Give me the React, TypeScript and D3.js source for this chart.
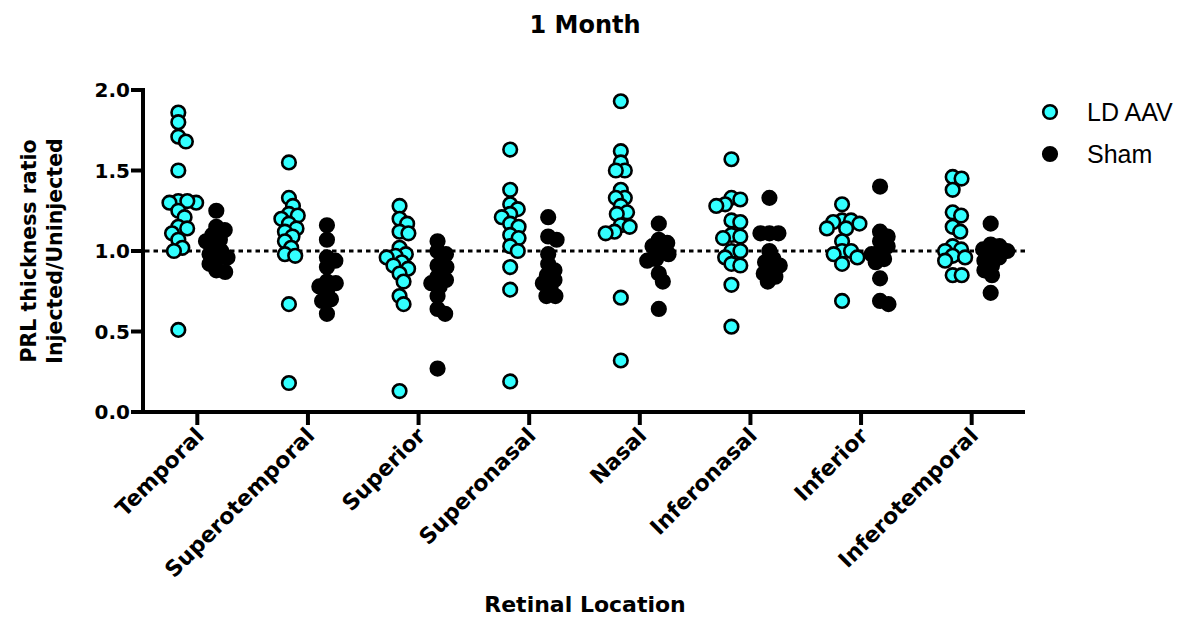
import React from 'react';
import * as d3 from 'd3';

// retinal locations (x categories)
const locations = [
  'Temporal',
  'Superotemporal',
  'Superior',
  'Superonasal',
  'Nasal',
  'Inferonasal',
  'Inferior',
  'Inferotemporal',
];

// LD AAV ratios, one list per location
const aavTemporal = [1.86, 1.8, 1.71, 1.68, 1.5, 1.31, 1.3, 1.3, 1.31, 1.25, 1.21, 1.15, 1.14, 1.11, 1.07, 1.02, 1.0, 0.51];
const aavSuperotemporal = [1.55, 1.33, 1.28, 1.23, 1.22, 1.2, 1.17, 1.14, 1.12, 1.09, 1.06, 1.02, 0.98, 0.97, 0.67, 0.18];
const aavSuperior = [1.28, 1.2, 1.17, 1.12, 1.11, 1.02, 0.98, 0.97, 0.96, 0.93, 0.91, 0.89, 0.86, 0.81, 0.72, 0.67, 0.13];
const aavSuperonasal = [1.63, 1.38, 1.29, 1.26, 1.23, 1.21, 1.17, 1.15, 1.1, 1.08, 1.03, 1.0, 0.9, 0.76, 0.19];
const aavNasal = [1.93, 1.62, 1.55, 1.5, 1.5, 1.38, 1.33, 1.33, 1.28, 1.24, 1.23, 1.16, 1.15, 1.12, 1.11, 0.71, 0.32];
const aavInferonasal = [1.57, 1.33, 1.32, 1.29, 1.28, 1.19, 1.18, 1.1, 1.09, 1.08, 1.0, 1.0, 0.96, 0.92, 0.91, 0.79, 0.53];
const aavInferior = [1.29, 1.19, 1.19, 1.18, 1.17, 1.14, 1.14, 1.06, 1.0, 1.0, 0.98, 0.96, 0.92, 0.69];
const aavInferotemporal = [1.46, 1.45, 1.38, 1.24, 1.22, 1.15, 1.12, 1.03, 1.01, 1.0, 0.97, 0.96, 0.94, 0.85, 0.85];

// Sham ratios
const shamTemporal = [1.25, 1.15, 1.13, 1.1, 1.07, 1.06, 1.03, 1.0, 0.98, 0.96, 0.95, 0.92, 0.88, 0.87];
const shamSuperotemporal = [1.16, 1.07, 0.96, 0.94, 0.9, 0.81, 0.8, 0.78, 0.75, 0.7, 0.69, 0.61];
const shamSuperior = [1.06, 1.0, 0.98, 0.91, 0.9, 0.84, 0.82, 0.8, 0.78, 0.72, 0.64, 0.61, 0.27];
const shamSuperonasal = [1.21, 1.09, 1.07, 0.98, 0.92, 0.88, 0.85, 0.82, 0.8, 0.77, 0.72, 0.72];
const shamNasal = [1.17, 1.07, 1.05, 1.03, 1.0, 0.98, 0.95, 0.94, 0.86, 0.81, 0.64];
const shamInferonasal = [1.33, 1.11, 1.11, 1.11, 1.0, 0.95, 0.93, 0.91, 0.89, 0.86, 0.84, 0.81];
const shamInferior = [1.4, 1.12, 1.09, 1.06, 1.03, 1.0, 0.98, 0.95, 0.93, 0.83, 0.69, 0.67];
const shamInferotemporal = [1.17, 1.04, 1.03, 1.01, 1.0, 0.98, 0.96, 0.94, 0.91, 0.88, 0.85, 0.74];

const aavByLocation = [aavTemporal, aavSuperotemporal, aavSuperior, aavSuperonasal, aavNasal, aavInferonasal, aavInferior, aavInferotemporal];
const shamByLocation = [shamTemporal, shamSuperotemporal, shamSuperior, shamSuperonasal, shamNasal, shamInferonasal, shamInferior, shamInferotemporal];

const yTicks = [0, 0.5, 1, 1.5, 2];
const refLine = 1.0;

const CYAN = '#33ffff';
const W = 1178;
const H = 619;
const BOLD = '"DejaVu Sans", sans-serif';

// simple beeswarm: offsets in px so points don't sit on top of each other
function dodge(ys: number[], diam: number): number[] {
  const order = d3.range(ys.length).sort((a, b) => ys[a] - ys[b]);
  const placed: { x: number; y: number }[] = [];
  const xs = new Array(ys.length).fill(0);
  for (const i of order) {
    const y = ys[i];
    const cands = [0];
    for (const p of placed) {
      const dy = Math.abs(p.y - y);
      if (dy < diam) {
        const dx = Math.sqrt(diam * diam - dy * dy);
        cands.push(p.x + dx, p.x - dx);
      }
    }
    cands.sort((a, b) => Math.abs(a) - Math.abs(b));
    for (const c of cands) {
      if (placed.every(p => (p.x - c) ** 2 + (p.y - y) ** 2 >= diam * diam - 1e-6)) {
        xs[i] = c;
        placed.push({ x: c, y });
        break;
      }
    }
  }
  return xs;
}

export default function App() {
  const x = d3.scaleBand().domain(locations).range([142, 1027]);
  const y = d3.scaleLinear().domain([0, 2]).range([412, 90]);
  const axisL = 143;
  const axisR = 1025;
  const r = 6.8;
  const groupShift = 19;

  const series = [
    { name: 'LD AAV', data: aavByLocation, fill: CYAN, shift: -groupShift },
    { name: 'Sham', data: shamByLocation, fill: '#000', shift: groupShift },
  ];

  return (
    <svg width={W} height={H} style={{ position: 'absolute', left: 0, top: 0, background: '#fff' }}>
      <text x={585} y={33} textAnchor="middle" fontFamily={BOLD} fontWeight="bold" fontSize={24}>
        1 Month
      </text>

      {/* y axis */}
      <line x1={axisL} x2={axisL} y1={y(2) - 2} y2={y(0) + 2} stroke="#000" strokeWidth={4} />
      {yTicks.map(t => (
        <g key={t}>
          <line x1={axisL - 12} x2={axisL} y1={y(t)} y2={y(t)} stroke="#000" strokeWidth={4} />
          <text x={axisL - 13} y={y(t)} dy="0.36em" textAnchor="end" fontFamily={BOLD} fontWeight="bold" fontSize={20}>
            {d3.format('.1f')(t)}
          </text>
        </g>
      ))}
      <g transform={`translate(36, ${(y(0) + y(2)) / 2}) rotate(-90)`}>
        <text textAnchor="middle" fontFamily={BOLD} fontWeight="bold" fontSize={20.5}>PRL thickness ratio</text>
        <text y={26} textAnchor="middle" fontFamily={BOLD} fontWeight="bold" fontSize={20.5}>Injected/Uninjected</text>
      </g>

      {/* x axis */}
      <line x1={axisL - 2} x2={axisR} y1={y(0)} y2={y(0)} stroke="#000" strokeWidth={4} />
      {locations.map(loc => {
        const cx = (x(loc) as number) + x.bandwidth() / 2;
        return (
          <g key={loc}>
            <line x1={cx} x2={cx} y1={y(0)} y2={y(0) + 13} stroke="#000" strokeWidth={4} />
            <text
              transform={`translate(${cx + 8}, ${y(0) + 25}) rotate(-45)`}
              textAnchor="end"
              fontFamily={BOLD}
              fontWeight="bold"
              fontSize={22}
            >
              {loc}
            </text>
          </g>
        );
      })}
      <text x={585} y={612} textAnchor="middle" fontFamily={BOLD} fontWeight="bold" fontSize={22}>
        Retinal Location
      </text>

      {/* reference line at 1.0 */}
      <line x1={axisL + 2} x2={axisR} y1={y(refLine)} y2={y(refLine)} stroke="#000" strokeWidth={3} strokeDasharray="4.5,4" />

      {/* points */}
      {series.map(s => (
        <g key={s.name}>
          {s.data.map((vals, li) => {
            const cx = (x(locations[li]) as number) + x.bandwidth() / 2 + s.shift;
            const ys = vals.map(v => y(v));
            const dx = dodge(ys, 9);
            return vals.map((v, i) => (
              <circle key={`${li}-${i}`} cx={cx + dx[i]} cy={ys[i]} r={r} fill={s.fill} stroke="#000" strokeWidth={2.6} />
            ));
          })}
        </g>
      ))}

      {/* legend */}
      {series.map((s, i) => (
        <g key={s.name} transform={`translate(1050, ${112 + i * 42})`}>
          <circle r={r} fill={s.fill} stroke="#000" strokeWidth={2.6} />
          <text x={37} dy="0.36em" fontFamily='"Liberation Sans", Arial, sans-serif' fontSize={25}>
            {s.name}
          </text>
        </g>
      ))}
    </svg>
  );
}
